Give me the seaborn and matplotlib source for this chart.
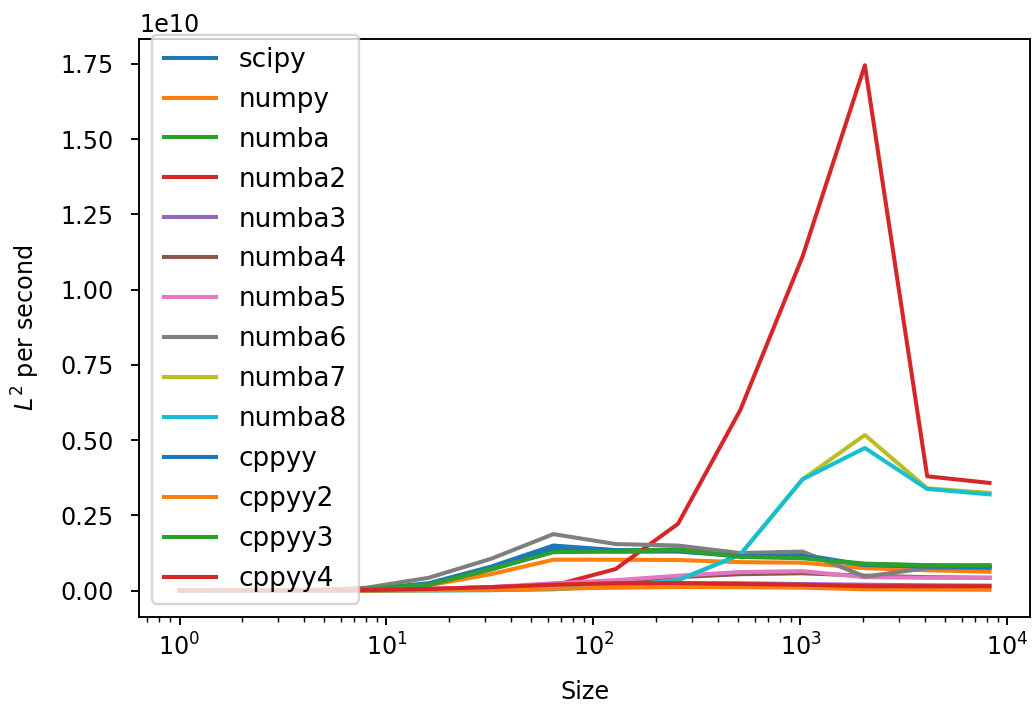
import numpy as np
import pandas as pd
import matplotlib
matplotlib.use("Agg")
import matplotlib.pyplot as plt
import seaborn as sns

sizes = [1, 2, 4, 8, 16, 32, 64, 128, 256, 512, 1024, 2048, 4096, 8192]

# values in units of 1e9 L^2 per second
scipy_v  = [0.0, 0.002, 0.01, 0.05, 0.25, 0.80, 1.50, 1.35, 1.35, 1.20, 1.20, 0.85, 0.80, 0.80]
numpy_v  = [0.0, 0.001, 0.005, 0.03, 0.18, 0.55, 1.03, 1.03, 1.02, 0.95, 0.93, 0.75, 0.68, 0.63]
numba_v  = [0.0, 0.002, 0.01, 0.06, 0.20, 0.70, 1.30, 1.32, 1.38, 1.15, 1.10, 0.90, 0.85, 0.82]
numba2_v = [0.0, 0.0005, 0.002, 0.01, 0.03, 0.08, 0.17, 0.72, 2.22, 6.00, 11.10, 17.45, 3.80, 3.58]
numba3_v = [0.0, 0.001, 0.005, 0.02, 0.06, 0.12, 0.18, 0.22, 0.25, 0.25, 0.22, 0.20, 0.18, 0.17]
numba4_v = [0.0, 0.001, 0.004, 0.015, 0.05, 0.10, 0.20, 0.30, 0.45, 0.55, 0.58, 0.50, 0.45, 0.43]
numba5_v = [0.0, 0.001, 0.005, 0.02, 0.06, 0.12, 0.25, 0.35, 0.50, 0.62, 0.65, 0.45, 0.43, 0.43]
numba6_v = [0.0, 0.003, 0.02, 0.10, 0.43, 1.06, 1.88, 1.55, 1.50, 1.25, 1.30, 0.47, 0.75, 0.75]
numba7_v = [0.0, 0.0, 0.001, 0.005, 0.01, 0.02, 0.05, 0.15, 0.35, 1.20, 3.70, 5.17, 3.40, 3.25]
numba8_v = [0.0, 0.0, 0.001, 0.005, 0.01, 0.02, 0.05, 0.15, 0.35, 1.20, 3.70, 4.74, 3.38, 3.20]
cppyy_v  = [0.0, 0.002, 0.01, 0.05, 0.22, 0.75, 1.40, 1.30, 1.30, 1.15, 1.15, 0.85, 0.80, 0.78]
cppyy2_v = [0.0, 0.0005, 0.002, 0.008, 0.02, 0.04, 0.07, 0.10, 0.12, 0.12, 0.10, 0.05, 0.04, 0.03]
cppyy3_v = [0.0, 0.002, 0.01, 0.06, 0.20, 0.72, 1.28, 1.30, 1.35, 1.12, 1.08, 0.88, 0.84, 0.85]
cppyy4_v = [0.0, 0.001, 0.004, 0.02, 0.06, 0.12, 0.20, 0.25, 0.25, 0.22, 0.20, 0.15, 0.15, 0.15]

names = ["scipy", "numpy", "numba", "numba2", "numba3", "numba4", "numba5",
         "numba6", "numba7", "numba8", "cppyy", "cppyy2", "cppyy3", "cppyy4"]
series = [scipy_v, numpy_v, numba_v, numba2_v, numba3_v, numba4_v, numba5_v,
          numba6_v, numba7_v, numba8_v, cppyy_v, cppyy2_v, cppyy3_v, cppyy4_v]

rows = []
for n, vals in zip(names, series):
    for s, v in zip(sizes, vals):
        rows.append({"Size": s, "rate": v * 1e9, "method": n})
df = pd.DataFrame(rows)

tab10 = sns.color_palette("tab10", 10)
palette = {n: tab10[i % 10] for i, n in enumerate(names)}

plt.rcParams.update({"font.family": ["DejaVu Sans"], "font.size": 10})
W, H = 1032, 711
fig = plt.figure(figsize=(W / 172, H / 172), dpi=172)
ax = fig.add_axes([139 / W, 1 - 617 / H, (1030 - 139) / W, (617 - 39) / H])

sns.lineplot(data=df, x="Size", y="rate", hue="method", hue_order=names,
             palette=palette, ax=ax, linewidth=1.7, legend=False)

ax.set_xscale("log")
ax.set_xlabel("Size", labelpad=8)
ax.set_ylabel(r"$L^2$ per second", labelpad=7.5)
ax.tick_params(axis="y", pad=7.2)

handles = [plt.Line2D([], [], color=palette[n], lw=1.7) for n in names]
ax.legend(handles, names, loc="upper left", fontsize=11,
          bbox_to_anchor=(152 / W, 1 - 35 / H), bbox_transform=fig.transFigure,
          borderaxespad=0, borderpad=0.45, handlelength=2.0, handletextpad=0.85,
          labelspacing=0.53)

fig.savefig("out.png", dpi=172)
